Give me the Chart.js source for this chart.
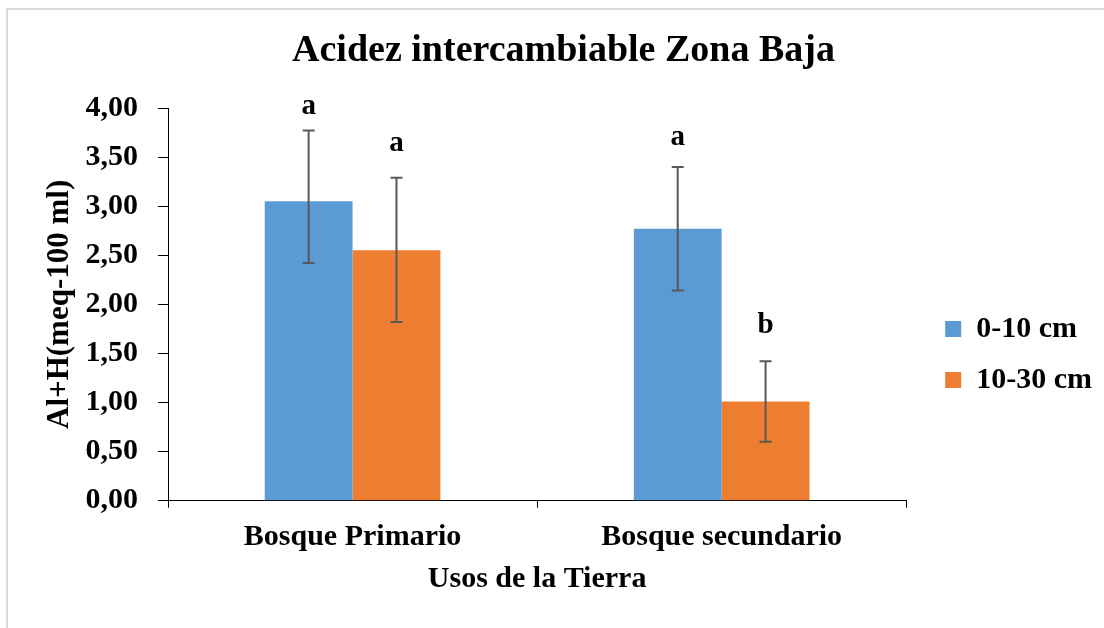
<!DOCTYPE html>
<html><head><meta charset="utf-8">
<script src="https://cdn.jsdelivr.net/npm/chart.js@4/dist/chart.umd.min.js"></script>
<style>
html,body{margin:0;padding:0;background:#fff;overflow:hidden;width:1104px;height:628px;}
#frame{position:absolute;left:6px;top:8px;width:2000px;height:2000px;border:2px solid #d9d9d9;}
#c{position:absolute;left:0;top:0;}
</style></head><body>
<div id="frame"></div>
<canvas id="c" width="1104" height="628"></canvas>
<script>
const categories = ['Bosque Primario', 'Bosque secundario'];
const seriesNames = ['0-10 cm', '10-30 cm'];
const values0_10 = [3.05, 2.77];
const values10_30 = [2.55, 1.01];
const errHigh0_10 = [3.77, 3.40];
const errLow0_10 = [2.42, 2.14];
const errHigh10_30 = [3.29, 1.42];
const errLow10_30 = [1.82, 0.60];
const letters0_10 = ['a', 'a'];
const letters10_30 = ['a', 'b'];
const letterLevel0_10 = [3.94, 3.62];
const letterLevel10_30 = [3.56, 1.71];
const yTickLabels = ['0,00','0,50','1,00','1,50','2,00','2,50','3,00','3,50','4,00'];
const titleText = 'Acidez intercambiable Zona Baja';
const xTitle = 'Usos de la Tierra';
const yTitle = 'Al+H(meq-100 ml)';

const FONT = "'Liberation Serif', 'Times New Roman', serif";
Chart.defaults.font.family = FONT;
Chart.defaults.font.weight = 'bold';
Chart.defaults.color = '#000';

const errorBarPlugin = {
  id: 'errorBars',
  afterDatasetsDraw(chart) {
    const ctx = chart.ctx;
    const y = chart.scales.y;
    chart.data.datasets.forEach((ds, di) => {
      const meta = chart.getDatasetMeta(di);
      meta.data.forEach((bar, i) => {
        const x = bar.x;
        const yh = y.getPixelForValue(ds.errHigh[i]);
        const yl = y.getPixelForValue(ds.errLow[i]);
        ctx.save();
        ctx.strokeStyle = '#595959';
        ctx.lineWidth = 2;
        ctx.beginPath();
        ctx.moveTo(x, yh); ctx.lineTo(x, yl);
        ctx.moveTo(x - 6, yh); ctx.lineTo(x + 6, yh);
        ctx.moveTo(x - 6, yl); ctx.lineTo(x + 6, yl);
        ctx.stroke();
        ctx.fillStyle = '#000';
        ctx.font = 'bold 29px ' + FONT;
        ctx.textAlign = 'center';
        ctx.textBaseline = 'alphabetic';
        ctx.fillText(ds.letters[i], x, y.getPixelForValue(ds.letterLevel[i]));
        ctx.restore();
      });
    });
  }
};

new Chart(document.getElementById('c'), {
  type: 'bar',
  data: {
    labels: categories,
    datasets: [
      { label: seriesNames[0], data: values0_10, backgroundColor: '#5B9BD5', borderWidth: 0,
        errHigh: errHigh0_10, errLow: errLow0_10, letters: letters0_10, letterLevel: letterLevel0_10,
        barPercentage: 1, categoryPercentage: 0.476 },
      { label: seriesNames[1], data: values10_30, backgroundColor: '#ED7D31', borderWidth: 0,
        errHigh: errHigh10_30, errLow: errLow10_30, letters: letters10_30, letterLevel: letterLevel10_30,
        barPercentage: 1, categoryPercentage: 0.476 }
    ]
  },
  options: {
    responsive: false,
    animation: false,
    devicePixelRatio: 1,
    layout: { padding: { left: 25, right: 2, top: 10, bottom: 31 } },
    plugins: {
      tooltip: { enabled: false },
      title: {
        display: true, text: titleText, color: '#000',
        font: { size: 38, weight: 'bold', family: FONT },
        padding: { top: 18.6, bottom: 33.8 }
      },
      legend: {
        position: 'right',
        align: 'center',
        title: { display: true, text: ' ', font: { size: 10 }, padding: { top: 0, bottom: 90 } },
        labels: {
          boxWidth: 16, boxHeight: 16, padding: 21, color: '#000',
          font: { size: 30, weight: 'bold', family: FONT }
        }
      }
    },
    scales: {
      x: {
        type: 'category',
        offset: true,
        grid: { offset: true, drawOnChartArea: false, drawTicks: true, tickLength: 7, color: '#000' },
        border: { color: '#000', width: 1 },
        ticks: { padding: 12, maxRotation: 0, autoSkip: false, color: '#000',
                 font: { size: 30, weight: 'bold', family: FONT } },
        title: { display: true, text: xTitle, color: '#000',
                 font: { size: 30, weight: 'bold', family: FONT }, padding: { top: 5, bottom: 0 } },
        afterFit(s) { s.height = 96.3; }
      },
      y: {
        min: 0, max: 4,
        grid: { drawOnChartArea: false, drawTicks: true, tickLength: 10, color: '#000' },
        border: { color: '#000', width: 1 },
        ticks: { stepSize: 0.5, padding: 20, color: '#000',
                 font: { size: 30, weight: 'bold', family: FONT },
                 callback: (v, i) => yTickLabels[i] },
        title: { display: true, text: yTitle, color: '#000',
                 font: { size: 31, weight: 'bold', family: FONT }, padding: { top: 16.4, bottom: 4 } },
        afterFit(s) { s.width = 143; }
      },
      y2: {
        position: 'right', display: true,
        grid: { display: false }, border: { display: false },
        ticks: { display: false },
        afterFit(s) { s.width = 18; }
      }
    }
  },
  plugins: [errorBarPlugin]
});
</script>
</body></html>
